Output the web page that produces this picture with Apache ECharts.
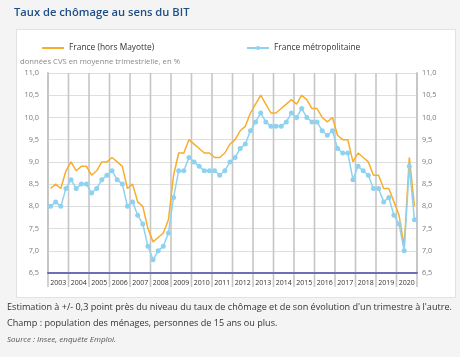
<!DOCTYPE html>
<html><head><meta charset="utf-8">
<script src="https://cdn.jsdelivr.net/npm/echarts@6/dist/echarts.min.js"></script>
<style>
html,body{margin:0;padding:0;background:#f4f4f4;}
#panel{position:absolute;left:16px;top:29px;width:438px;height:267px;background:#fff;border:1px solid #e2e2e2;}
#c{position:absolute;left:0;top:0;width:460px;height:357px;}
</style></head>
<body><div id="panel"></div><div id="c"></div>
<script>
const years = ['2003','2004','2005','2006','2007','2008','2009','2010','2011','2012','2013','2014','2015','2016','2017','2018','2019','2020'];
const franceHorsMayotte = [
  8.4, 8.5, 8.4, 8.8,
  9.0, 8.8, 8.9, 8.9,
  8.7, 8.8, 9.0, 9.0,
  9.1, 9.0, 8.9, 8.4,
  8.5, 8.1, 8.0, 7.5,
  7.2, 7.3, 7.4, 7.7,
  8.7, 9.2, 9.2, 9.5,
  9.4, 9.3, 9.2, 9.2,
  9.1, 9.1, 9.2, 9.4,
  9.5, 9.7, 9.8, 10.1,
  10.3, 10.5, 10.3, 10.1,
  10.1, 10.2, 10.3, 10.4,
  10.3, 10.5, 10.4, 10.2,
  10.2, 10.0, 9.9, 10.0,
  9.6, 9.5, 9.5, 9.0,
  9.2, 9.1, 9.0, 8.7,
  8.7, 8.4, 8.4, 8.1,
  7.8, 7.1, 9.1, 8.0
];
const franceMetropolitaine = [
  8.0, 8.1, 8.0, 8.4,
  8.6, 8.4, 8.5, 8.5,
  8.3, 8.4, 8.6, 8.7,
  8.8, 8.6, 8.5, 8.0,
  8.1, 7.8, 7.6, 7.1,
  6.8, 7.0, 7.1, 7.4,
  8.2, 8.8, 8.8, 9.1,
  9.0, 8.9, 8.8, 8.8,
  8.8, 8.7, 8.8, 9.0,
  9.1, 9.3, 9.4, 9.7,
  9.9, 10.1, 9.9, 9.8,
  9.8, 9.8, 9.9, 10.1,
  10.0, 10.2, 10.0, 9.9,
  9.9, 9.7, 9.6, 9.7,
  9.3, 9.2, 9.2, 8.6,
  8.9, 8.8, 8.7, 8.4,
  8.4, 8.1, 8.2, 7.8,
  7.6, 7.0, 8.9, 7.7
];
const yMin = 6.5, yMax = 11.0, yStep = 0.5;
const qPerYear = 4;
const FONT = '"Open Sans", "Noto Sans", sans-serif';
const fmt = v => v.toFixed(1).replace('.', ',');
// x in quarter units: quarter i sits at the middle of its slot (i + 0.5)
const toPoints = arr => arr.map((v, i) => [i + 0.5, v]);
const xMax = years.length * qPerYear;
// year boundaries, used for vertical grid lines + separators under the axis
const yearBounds = years.map((y, i) => i * qPerYear).concat([xMax]);

const chart = echarts.init(document.getElementById('c'), null, {renderer: 'canvas'});
chart.setOption({
  backgroundColor: 'transparent',
  animation: false,
  textStyle: {fontFamily: FONT},
  graphic: [
    {type: 'text', left: 14, top: 7, style: {text: 'Taux de chômage au sens du BIT', fill: '#1d4f86', font: '600 11.2px ' + FONT}},
    {type: 'text', left: 20, top: 58, style: {text: 'données CVS en moyenne trimestrielle, en %', fill: '#8a8a8a', font: '7.7px ' + FONT}},
    {type: 'text', left: 7, top: 303, style: {text: "Estimation à +/- 0,3 point près du niveau du taux de chômage et de son évolution d'un trimestre à l'autre.", fill: '#333', font: '9.1px ' + FONT}},
    {type: 'text', left: 7, top: 319, style: {text: 'Champ : population des ménages, personnes de 15 ans ou plus.', fill: '#333', font: '9.1px ' + FONT}},
    {type: 'text', left: 7, top: 336, style: {text: 'Source : Insee, enquête Emploi.', fill: '#555', font: 'italic 8px ' + FONT}}
  ],
  legend: [
    {left: 37, top: 39, itemWidth: 22, itemHeight: 2, itemGap: 6, icon: 'rect',
     data: ['France (hors Mayotte)'], textStyle: {color: '#333', fontSize: 8.4, fontFamily: FONT}},
    {left: 241, top: 39, itemWidth: 22, itemHeight: 5, itemGap: 7,
     data: ['France métropolitaine'], textStyle: {color: '#333', fontSize: 8.4, fontFamily: FONT}}
  ],
  grid: {left: 48, right: 43, top: 73, bottom: 84, containLabel: false},
  xAxis: {
    type: 'value', min: 0, max: xMax, interval: qPerYear, position: 'bottom', z: 6,
    axisLine: {show: true, onZero: false, lineStyle: {color: '#6e6eb8', width: 2}},
    axisTick: {show: false},
    axisLabel: {show: true, showMaxLabel: false,
                formatter: (v) => (v < xMax ? years[Math.round(v / qPerYear)] : ''),
                color: '#333', fontSize: 7, margin: 6, align: 'center', padding: [0, 0, 0, 20.5], fontFamily: FONT},
    splitLine: {show: false}
  },
  yAxis: [
    {type: 'value', min: yMin, max: yMax, interval: yStep, position: 'left',
     axisLine: {show: true, lineStyle: {color: '#c8c8c8', width: 2}}, axisTick: {show: false},
     axisLabel: {formatter: fmt, color: '#7a7a7a', fontSize: 7.3, margin: 9, fontFamily: FONT},
     splitLine: {show: true, lineStyle: {color: '#dedede', width: 1}}},
    {type: 'value', min: yMin, max: yMax, interval: yStep, position: 'right',
     axisLine: {show: true, lineStyle: {color: '#c8c8c8', width: 2}}, axisTick: {show: false},
     axisLabel: {formatter: fmt, color: '#7a7a7a', fontSize: 7.3, margin: 5, fontFamily: FONT},
     splitLine: {show: false}}
  ],
  series: [
    {name: 'yearGrid', type: 'custom', clip: false, silent: true, z: 1,
     data: yearBounds.map(b => [b]),
     encode: {x: 0},
     renderItem: (params, api) => {
       const x = api.value(0);
       const top = api.coord([x, yMax]);
       const bot = api.coord([x, yMin]);
       return {type: 'line', shape: {x1: top[0], y1: top[1], x2: top[0], y2: bot[1] + 14},
               style: {stroke: '#c6c6c6', lineWidth: 1.6}};
     }},
    {name: 'France (hors Mayotte)', type: 'line', yAxisIndex: 0, data: toPoints(franceHorsMayotte),
     symbol: 'none', lineStyle: {color: '#f9ad2c', width: 1.5}, itemStyle: {color: '#f9ad2c'}, z: 3},
    {name: 'France métropolitaine', type: 'line', yAxisIndex: 0, data: toPoints(franceMetropolitaine),
     symbol: 'circle', symbolSize: 5, showSymbol: true, showAllSymbol: true,
     lineStyle: {color: '#8fd2ef', width: 1.5}, itemStyle: {color: '#8fd2ef', borderWidth: 0}, z: 4}
  ]
});
</script></body></html>
